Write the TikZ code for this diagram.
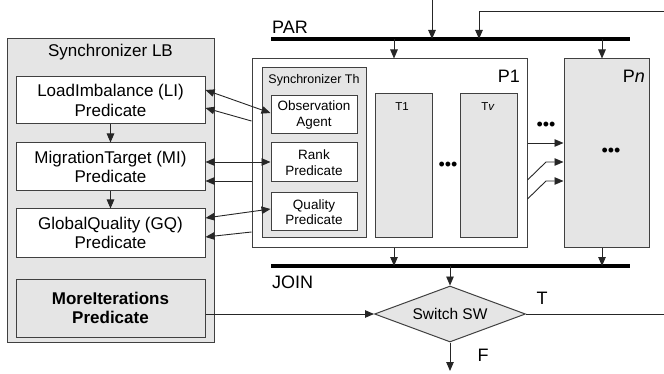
\documentclass[tikz,border=0pt]{standalone}
\usepackage{fontspec}
\setmainfont{Liberation Sans}
\usetikzlibrary{arrows.meta,shapes.geometric,calc}
\tikzset{
 box/.style={draw=black!75, line width=1pt, rectangle, inner sep=0pt, align=center},
 wbox/.style={box, fill=white},
 gbox/.style={box, fill=gray!20},
 conn/.style={draw=black!85, line width=0.9pt},
 arr/.style={conn, -{Triangle[length=9pt,width=7.5pt]}},
 darr/.style={conn, {Triangle[length=9pt,width=7.5pt]}-{Triangle[length=9pt,width=7.5pt]}},
 bar/.style={line width=3.4pt, black},
 big/.style={font=\fontsize{17}{19.5}\selectfont},
 bigb/.style={font=\fontsize{17}{19.5}\selectfont\bfseries},
 mid/.style={font=\fontsize{13.5}{15.5}\selectfont},
 small/.style={font=\fontsize{12.5}{14}\selectfont, inner sep=0pt},
 tiny/.style={font=\fontsize{11.5}{13}\selectfont, inner sep=0pt},
 lbl/.style={font=\fontsize{18}{20}\selectfont, inner sep=0pt},
 dots/.style={font=\fontsize{18}{18}\selectfont, inner sep=0pt},
}
\begin{document}
\begin{tikzpicture}[x=1pt,y=-1pt]
\useasboundingbox (0,0) rectangle (664,374);

% Synchronizer LB
\node[gbox, minimum width=207pt, minimum height=303pt] (LB) at (110.5,190.5) {};
\node[big, inner sep=0pt] (LBt) at (110.5,52) {Synchronizer LB};
\node[wbox, big, minimum width=189pt, minimum height=47pt] (LI) at (110.5,100.5) {LoadImbalance (LI)\\Predicate};
\node[wbox, big, minimum width=189pt, minimum height=48pt] (MI) at (110.5,167) {MigrationTarget (MI)\\Predicate};
\node[wbox, big, minimum width=189pt, minimum height=48pt] (GQ) at (110.5,233) {GlobalQuality (GQ)\\Predicate};
\node[gbox, bigb, minimum width=189pt, minimum height=58pt] (MoreIt) at (110.5,308) {MoreIterations\\Predicate};
\draw[arr] (LI) -- (MI);
\draw[arr] (MI) -- (GQ);

% P1
\node[wbox, minimum width=275pt, minimum height=189pt] (P1) at (389.5,153.5) {};
\node[lbl, anchor=east] (P1t) at (520,76) {P1};
\node[gbox, minimum width=104pt, minimum height=170pt] (Th) at (314,153) {};
\node[small] (Tht) at (314,80) {Synchronizer Th};
\node[wbox, mid, minimum width=86pt, minimum height=38pt] (Obs) at (314,115) {Observation\\Agent};
\node[wbox, mid, minimum width=86pt, minimum height=39pt] (Rank) at (314,162.5) {Rank\\Predicate};
\node[wbox, mid, minimum width=86pt, minimum height=38pt] (Qual) at (314,212) {Quality\\Predicate};
\node[gbox, minimum width=57pt, minimum height=144pt] (T1) at (403.5,166) {};
\node[tiny] (T1t) at (402,107) {T1};
\node[gbox, minimum width=57pt, minimum height=144pt] (Tv) at (488.5,166) {};
\node[tiny] (Tvt) at (488,107) {T\textit{v}};
\node[dots] (d1) at (448,166) {•••};

% Pn
\node[gbox, minimum width=85pt, minimum height=189pt] (Pn) at (606.5,153.5) {};
\node[lbl, anchor=east] (Pnt) at (645,76) {P\textit{n}};
\node[dots] (d2) at (611,152) {•••};
\node[dots] (d3) at (546,126) {•••};

% PAR / JOIN bars
\coordinate (parL) at (271,39);
\coordinate (parR) at (630,39);
\coordinate (joinL) at (271,266);
\coordinate (joinR) at (630,266);
\draw[bar] (parL) -- (parR);
\draw[bar] (joinL) -- (joinR);
\node[lbl, anchor=west] (PAR) at (272,27) {PAR};
\node[lbl, anchor=west] (JOIN) at (272,282) {JOIN};

\coordinate (in) at (432,0);
\coordinate (fb) at (664,11);
\coordinate (fbc) at (479,11);
\draw[arr] (in) -- (in |- parL);
\draw[arr] (fb) -- (fbc) -- (fbc |- parL);
\coordinate (par1) at (394,39);
\coordinate (parn) at (602,39);
\draw[arr] (par1) -- (P1.north -| par1);
\draw[arr] (parn) -- (Pn.north -| parn);
\coordinate (join1) at (394,266);
\coordinate (joinn) at (602,266);
\coordinate (joinsw) at (450,266);
\draw[arr] (P1.south -| join1) -- (join1);
\draw[arr] (Pn.south -| joinn) -- (joinn);

% Switch
\node[diamond, draw=black!75, line width=1pt, fill=gray!20, minimum width=151pt, minimum height=56pt, inner sep=0pt, aspect=2.7, font=\fontsize{15.5}{17}\selectfont] (SW) at (450,314) {Switch SW};
\draw[arr] (joinsw) -- (SW.north);
\coordinate (outT) at (664,314);
\coordinate (outF) at (450,371);
\draw[conn] (SW.east) -- (outT);
\draw[arr] (SW.south) -- (outF);
\draw[arr] (SW.west -| MoreIt.east) -- (SW.west);
\node[lbl] (Tl) at (542,298) {T};
\node[lbl] (Fl) at (483,355) {F};

% LB <-> Th connectors
\draw[darr] (LI.east |- 0,90) -- (Obs.west |- 0,113);
\draw[arr] (P1.west |- 0,121) -- (LI.east |- 0,108);
\draw[darr] (MI.east |- 0,162) -- (Rank.west |- 0,162);
\draw[arr] (P1.west |- 0,181) -- (MI.east |- 0,181);
\draw[darr] (GQ.east |- 0,218) -- (Qual.west |- 0,209);
\draw[arr] (P1.west |- 0,232) -- (GQ.east |- 0,237);

% P1 -> Pn connectors
\coordinate (k1) at (546,162);
\coordinate (k2) at (546,181);
\draw[arr] (P1.east |- 0,143) -- (Pn.west |- 0,143);
\draw[arr] (P1.east |- 0,180) -- (k1) -- (Pn.west |- k1);
\draw[arr] (P1.east |- 0,199) -- (k2) -- (Pn.west |- k2);
\end{tikzpicture}
\end{document}
